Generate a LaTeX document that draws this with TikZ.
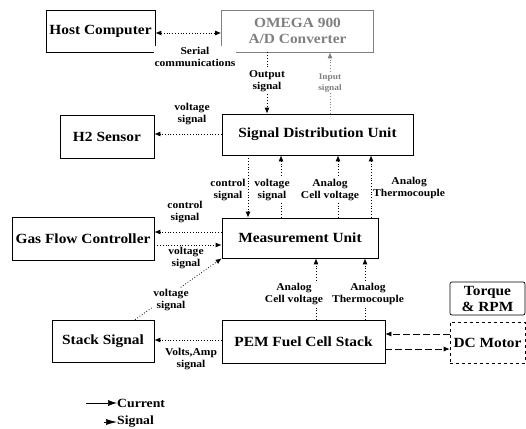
\documentclass[tikz,border=0pt]{standalone}
\usepackage{fontspec}
\setmainfont{Liberation Serif}[FakeStretch=1.1]
\usetikzlibrary{arrows.meta,calc}
\definecolor{faded}{gray}{0.5}
\begin{document}
\begin{tikzpicture}[x=1pt,y=-1pt,
  box/.style={draw, line width=0.7pt, inner sep=0pt, align=center,
    font=\bfseries\fontsize{14}{16}\selectfont},
  lbl/.style={font=\bfseries\fontsize{10.5}{12.5}\selectfont, align=center,
    inner sep=1pt, fill=white},
  tip/.style={-{Latex[length=6pt,width=5pt]}},
  sig/.style={dotted, line width=0.8pt, tip},
  sigb/.style={dotted, line width=0.8pt, {Latex[length=6pt,width=5pt]}-{Latex[length=6pt,width=5pt]}},
  cur/.style={dash pattern=on 7pt off 3pt, line width=0.7pt, tip},
]
\useasboundingbox (0,0) rectangle (526,428);
\fill[white] (0,0) rectangle (526,428);

% boxes
\node[box, minimum width=109pt, minimum height=42pt] (host) at (100.5,31.5) {Host Computer};
\node[box, minimum width=152pt, minimum height=42pt, text=faded, draw=faded] (omega) at (297.5,31) {OMEGA 900\\A/D Converter};
\node[box, minimum width=191pt, minimum height=41pt] (sdu) at (317.5,134.5) {Signal Distribution Unit};
\node[box, minimum width=94pt, minimum height=43pt] (h2) at (107,136.5) {H2 Sensor};
\node[box, minimum width=156pt, minimum height=40pt] (mu) at (300,238) {Measurement Unit};
\node[box, minimum width=142pt, minimum height=43pt] (gfc) at (83,238.5) {Gas Flow Controller};
\node[box, minimum width=102pt, minimum height=42pt] (ss) at (103,341) {Stack Signal};
\node[box, minimum width=163pt, minimum height=43pt] (pem) at (303.5,341.5) {PEM Fuel Cell Stack};
\node[box, minimum width=75pt, minimum height=33pt, rounded corners=2pt] (tq) at (487.5,298.5) {Torque\\\& RPM};
\node[box, minimum width=75pt, minimum height=41pt, dashed] (dc) at (487.5,342.5) {DC Motor};

% host <-> omega
\draw[sigb] (host.east |- 0,33) -- (omega.west |- 0,33);
\node[lbl] (lser) at (195,57) {Serial\\communications};

% omega <-> sdu
\draw[sig] (omega.south -| 267,0) -- (sdu.north -| 267,0);
\node[lbl] (lout) at (267,81) {Output\\signal};
\draw[sig, draw=faded] (sdu.north -| 330,0) -- (omega.south -| 330,0);
\node[lbl, text=faded, font=\bfseries\fontsize{8.5}{11}\selectfont] (lin) at (330,83) {Input\\signal};

% sdu -> h2
\draw[sig] (sdu.west |- 0,134) -- (h2.east |- 0,134);
\node[lbl] (lh2) at (192,114) {voltage\\signal};

% sdu <-> mu
\draw[sig] (sdu.south -| 248,0) -- (mu.north -| 248,0);
\draw[sig] (mu.north -| 281,0) -- (sdu.south -| 281,0);
\draw[sig] (mu.north -| 338,0) -- (sdu.south -| 338,0);
\draw[sig] (mu.north -| 371,0) -- (sdu.south -| 371,0);
\node[lbl] (lctl) at (228,190) {control\\signal};
\node[lbl] (lvs) at (272,190) {voltage\\signal};
\node[lbl] (lacv) at (330,190) {Analog\\Cell voltage};
\node[lbl, anchor=west] (lath) at (372,188) {Analog\\Thermocouple};

% mu <-> gfc
\draw[sig] (mu.west |- 0,232) -- (gfc.east |- 0,232);
\draw[sig] (gfc.east |- 0,245) -- (mu.west |- 0,245);
\node[lbl, fill=none] (lgc) at (185,212) {control\\signal};
\node[lbl, fill=none] (lgv) at (186,258) {voltage\\signal};

% ss -> mu
\draw[sig] (ss.north -| 135,0) -- (mu.south west);
\node[lbl] (lsv) at (171,300) {voltage\\signal};

% pem -> ss
\draw[sig] (pem.west |- 0,340) -- (ss.east |- 0,340);
\node[lbl, fill=none] (lva) at (191,359) {Volts,Amp\\signal};

% pem -> mu
\draw[sig] (pem.north -| 316,0) -- (mu.south -| 316,0);
\draw[sig] (pem.north -| 365,0) -- (mu.south -| 365,0);
\node[lbl] (lpcv) at (294,294) {Analog\\Cell voltage};
\node[lbl] (lpth) at (368,294) {Analog\\Thermocouple};

% pem <-> dc motor
\draw[cur] (dc.west |- 0,334) -- (pem.east |- 0,334);
\draw[cur] (pem.east |- 0,349) -- (dc.west |- 0,349);

% legend
\node[font=\bfseries\fontsize{12.5}{14}\selectfont, anchor=west, inner sep=0pt] (lcur) at (117,403) {Current};
\node[font=\bfseries\fontsize{12.5}{14}\selectfont, anchor=west, inner sep=0pt] (lsig) at (117,422) {Signal};
\coordinate (c1) at (86,403);
\coordinate (c2) at (104,422);
\draw[line width=0.7pt, -{Latex[length=9pt,width=6pt]}] (c1) -- (lcur.west);
\draw[line width=0.7pt, -{Latex[length=11pt,width=6pt]}] (c2) -- (lsig.west);
\end{tikzpicture}
\end{document}
